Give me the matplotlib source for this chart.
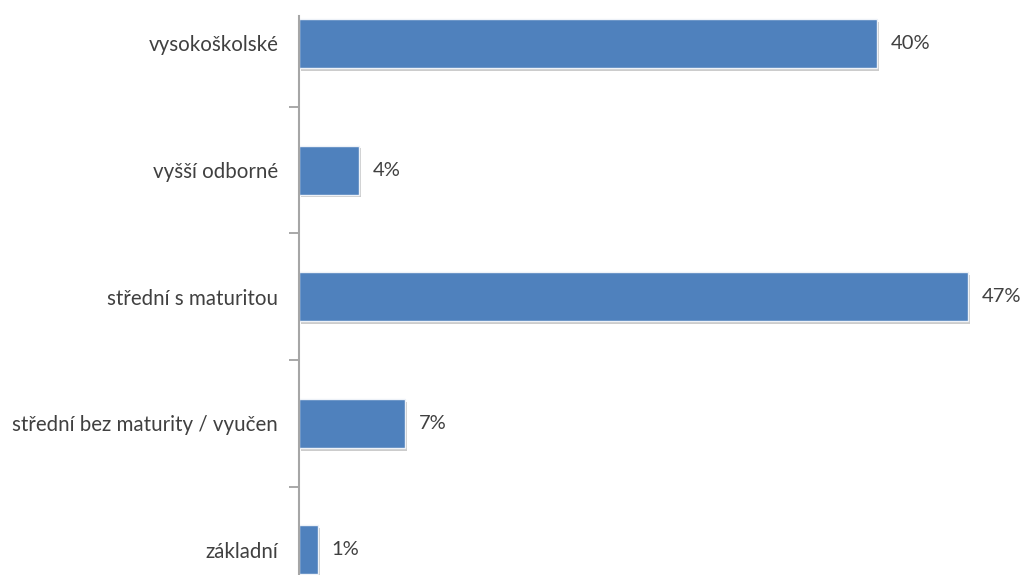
import numpy as np
from matplotlib import pyplot as plt
from matplotlib import patheffects as pe

# education level shares (percent)
levels = ["vysokoškolské", "vyšší odborné", "střední s maturitou",
          "střední bez maturity / vyučen", "základní"]
shares = [40.3, 4.2, 46.6, 7.4, 1.3]

plt.rcParams['font.family'] = ['Lato', 'DejaVu Sans']

fig = plt.figure(figsize=(10.25, 5.75), dpi=100)
# axes placed in pixels: left 299, top 16, bottom at figure edge
ax = fig.add_axes([299 / 1025, 0, (1025 - 299) / 1025, (575 - 16) / 575])

pos = np.arange(len(levels))
bars = ax.barh(pos, shares, height=0.387, color="#4F81BD",
               edgecolor="#eef2f8", linewidth=1.0)
for b in bars:
    b.set_path_effects([pe.SimplePatchShadow(offset=(1.5, -2), shadow_rgbFace="#808080", alpha=0.4),
                        pe.Normal()])

# value labels next to bar ends
for y, v in zip(pos, shares):
    ax.text(v + 0.95, y, "{:.0f}%".format(v), va="center", ha="left",
            fontsize=14.5, color="#404040", clip_on=False)

ax.set_xlim(0, 726 / 14.35)
ax.set_ylim(4.198, -0.217)

ax.set_yticks(pos)
ax.set_yticklabels(levels, fontsize=14.8, color="#404040")
ax.set_yticks(pos[:-1] + 0.5, minor=True)
ax.tick_params(axis="y", which="major", length=0, pad=15)
ax.tick_params(axis="y", which="minor", length=7, width=1.2, color="#9a9a9a")
ax.set_xticks([])

for s in ["top", "right", "bottom"]:
    ax.spines[s].set_visible(False)
ax.spines["left"].set_color("#a6a6a6")
ax.spines["left"].set_linewidth(1.5)

fig.savefig("out.png", dpi=100)
